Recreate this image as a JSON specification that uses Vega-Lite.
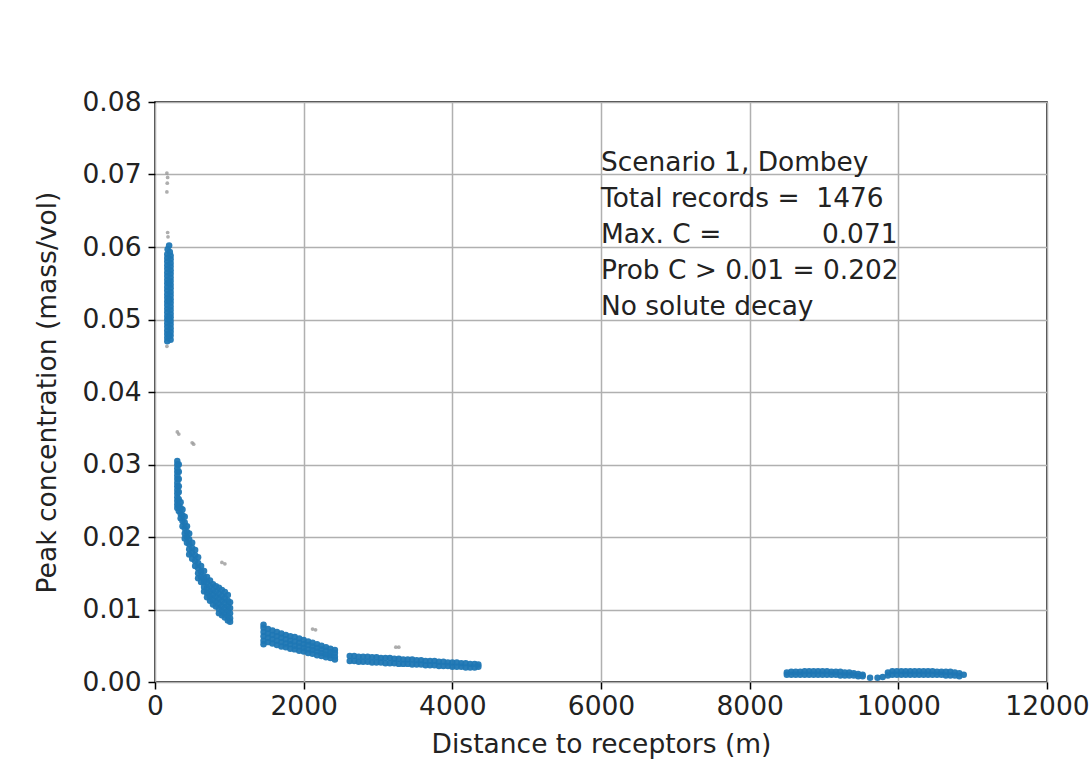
{
  "$schema": "https://vega.github.io/schema/vega-lite/v6.json",
  "width": 892,
  "height": 580,
  "autosize": {"type": "none"},
  "padding": {"left": 155, "top": 102, "right": 42, "bottom": 82},
  "background": "white",
  "config": {
    "font": "DejaVu Sans",
    "view": {"stroke": "black", "strokeWidth": 1.5},
    "axis": {
      "grid": true,
      "gridColor": "#b0b0b0",
      "gridWidth": 1.5,
      "domain": false,
      "tickColor": "black",
      "tickSize": 7,
      "tickWidth": 1.5,
      "labelFontSize": 26.5,
      "labelColor": "#222222",
      "titleFontSize": 26.5,
      "titleFontWeight": "normal",
      "titleColor": "#222222"
    }
  },
  "datasets": {
    "main": [
      {"x":165,"y":0.047},{"x":210,"y":0.0472},{"x":165,"y":0.0475},{"x":210,"y":0.0478},
      {"x":165,"y":0.048},{"x":210,"y":0.0483},{"x":165,"y":0.0485},{"x":210,"y":0.0488},
      {"x":165,"y":0.049},{"x":210,"y":0.0493},{"x":165,"y":0.0495},{"x":210,"y":0.0498},
      {"x":165,"y":0.05},{"x":210,"y":0.0503},{"x":165,"y":0.0505},{"x":210,"y":0.0508},
      {"x":165,"y":0.051},{"x":210,"y":0.0513},{"x":165,"y":0.0515},{"x":210,"y":0.0518},
      {"x":165,"y":0.052},{"x":210,"y":0.0523},{"x":165,"y":0.0525},{"x":210,"y":0.0528},
      {"x":165,"y":0.053},{"x":210,"y":0.0533},{"x":165,"y":0.0535},{"x":210,"y":0.0538},
      {"x":165,"y":0.054},{"x":210,"y":0.0543},{"x":165,"y":0.0545},{"x":210,"y":0.0548},
      {"x":165,"y":0.055},{"x":210,"y":0.0553},{"x":165,"y":0.0555},{"x":210,"y":0.0558},
      {"x":165,"y":0.056},{"x":210,"y":0.0563},{"x":165,"y":0.0565},{"x":210,"y":0.0568},
      {"x":165,"y":0.057},{"x":210,"y":0.0573},{"x":165,"y":0.0575},{"x":210,"y":0.0578},
      {"x":165,"y":0.058},{"x":210,"y":0.0583},{"x":165,"y":0.0585},{"x":210,"y":0.0588},
      {"x":165,"y":0.059},{"x":200,"y":0.0593},{"x":170,"y":0.0597},{"x":190,"y":0.0602},
      {"x":188,"y":0.0478},{"x":188,"y":0.0502},{"x":188,"y":0.0527},{"x":188,"y":0.0551},
      {"x":300,"y":0.0305},{"x":300,"y":0.03},{"x":300,"y":0.0295},{"x":300,"y":0.029},
      {"x":300,"y":0.0285},{"x":300,"y":0.028},{"x":300,"y":0.0275},{"x":300,"y":0.027},
      {"x":300,"y":0.0265},{"x":300,"y":0.026},{"x":300,"y":0.0255},{"x":300,"y":0.025},
      {"x":300,"y":0.0245},{"x":300,"y":0.024},
      {"x":320,"y":0.03},{"x":320,"y":0.029},{"x":320,"y":0.028},{"x":320,"y":0.027},
      {"x":320,"y":0.0262},{"x":320,"y":0.0252},{"x":320,"y":0.0243},{"x":320,"y":0.0236},
      {"x":345,"y":0.0248},{"x":345,"y":0.024},{"x":345,"y":0.0232},{"x":345,"y":0.0226},
      {"x":370,"y":0.0238},{"x":370,"y":0.023},{"x":370,"y":0.0222},{"x":370,"y":0.0215},
      {"x":400,"y":0.0228},{"x":400,"y":0.022},{"x":400,"y":0.0212},{"x":400,"y":0.0205},{"x":400,"y":0.0198},
      {"x":430,"y":0.0215},{"x":430,"y":0.0207},{"x":430,"y":0.02},{"x":430,"y":0.0192},
      {"x":460,"y":0.0205},{"x":460,"y":0.0197},{"x":460,"y":0.019},{"x":460,"y":0.0183},{"x":460,"y":0.0176},
      {"x":500,"y":0.0192},{"x":500,"y":0.0185},{"x":500,"y":0.0178},{"x":500,"y":0.017},
      {"x":540,"y":0.0182},{"x":540,"y":0.0175},{"x":540,"y":0.0167},{"x":540,"y":0.016},
      {"x":580,"y":0.0172},{"x":580,"y":0.0164},{"x":580,"y":0.0157},{"x":580,"y":0.015},{"x":580,"y":0.0143},
      {"x":620,"y":0.016},{"x":620,"y":0.0152},{"x":620,"y":0.0145},{"x":620,"y":0.0138},
      {"x":660,"y":0.0153},{"x":660,"y":0.0145},{"x":660,"y":0.0138},{"x":660,"y":0.0131},{"x":660,"y":0.0125},
      {"x":700,"y":0.0145},{"x":700,"y":0.0138},{"x":700,"y":0.013},{"x":700,"y":0.0123},{"x":700,"y":0.0117},
      {"x":740,"y":0.014},{"x":740,"y":0.0132},{"x":740,"y":0.0125},{"x":740,"y":0.0118},{"x":740,"y":0.0112},
      {"x":780,"y":0.0135},{"x":780,"y":0.0127},{"x":780,"y":0.012},{"x":780,"y":0.0113},{"x":780,"y":0.0107},
      {"x":820,"y":0.0132},{"x":820,"y":0.0125},{"x":820,"y":0.0118},{"x":820,"y":0.0111},{"x":820,"y":0.0104},
      {"x":860,"y":0.013},{"x":860,"y":0.0122},{"x":860,"y":0.0115},{"x":860,"y":0.0108},{"x":860,"y":0.0101},{"x":860,"y":0.0095},
      {"x":900,"y":0.0127},{"x":900,"y":0.0119},{"x":900,"y":0.0112},{"x":900,"y":0.0105},{"x":900,"y":0.0098},{"x":900,"y":0.0092},
      {"x":940,"y":0.0124},{"x":940,"y":0.0116},{"x":940,"y":0.0109},{"x":940,"y":0.0102},{"x":940,"y":0.0095},{"x":940,"y":0.0089},
      {"x":980,"y":0.012},{"x":980,"y":0.0112},{"x":980,"y":0.0105},{"x":980,"y":0.0098},{"x":980,"y":0.0091},{"x":980,"y":0.0085},
      {"x":1010,"y":0.011},{"x":1010,"y":0.0102},{"x":1010,"y":0.0095},{"x":1010,"y":0.0088},{"x":1010,"y":0.0083},
      {"x":1460,"y":0.0079},{"x":1460,"y":0.0075},{"x":1460,"y":0.0069},{"x":1460,"y":0.0063},{"x":1460,"y":0.0057},{"x":1460,"y":0.0052},
      {"x":1520,"y":0.0073},{"x":1520,"y":0.0067},{"x":1520,"y":0.0061},{"x":1520,"y":0.0055},
      {"x":1580,"y":0.0071},{"x":1580,"y":0.0065},{"x":1580,"y":0.0059},{"x":1580,"y":0.0053},
      {"x":1640,"y":0.0069},{"x":1640,"y":0.0063},{"x":1640,"y":0.0057},{"x":1640,"y":0.0051},
      {"x":1700,"y":0.0067},{"x":1700,"y":0.0061},{"x":1700,"y":0.0055},{"x":1700,"y":0.0049},
      {"x":1760,"y":0.0065},{"x":1760,"y":0.0059},{"x":1760,"y":0.0053},{"x":1760,"y":0.0048},
      {"x":1820,"y":0.0063},{"x":1820,"y":0.0057},{"x":1820,"y":0.0052},{"x":1820,"y":0.0046},
      {"x":1880,"y":0.0062},{"x":1880,"y":0.0056},{"x":1880,"y":0.005},{"x":1880,"y":0.0045},
      {"x":1940,"y":0.006},{"x":1940,"y":0.0054},{"x":1940,"y":0.0049},{"x":1940,"y":0.0043},
      {"x":2000,"y":0.0058},{"x":2000,"y":0.0052},{"x":2000,"y":0.0047},{"x":2000,"y":0.0042},
      {"x":2060,"y":0.0056},{"x":2060,"y":0.0051},{"x":2060,"y":0.0045},{"x":2060,"y":0.004},
      {"x":2120,"y":0.0054},{"x":2120,"y":0.0049},{"x":2120,"y":0.0044},{"x":2120,"y":0.0039},
      {"x":2180,"y":0.0052},{"x":2180,"y":0.0047},{"x":2180,"y":0.0042},{"x":2180,"y":0.0037},
      {"x":2240,"y":0.005},{"x":2240,"y":0.0045},{"x":2240,"y":0.004},{"x":2240,"y":0.0036},
      {"x":2300,"y":0.0048},{"x":2300,"y":0.0043},{"x":2300,"y":0.0038},{"x":2300,"y":0.0034},
      {"x":2360,"y":0.0046},{"x":2360,"y":0.0041},{"x":2360,"y":0.0037},{"x":2360,"y":0.0033},
      {"x":2420,"y":0.0044},{"x":2420,"y":0.004},{"x":2420,"y":0.0035},{"x":2420,"y":0.0031},
      {"x":2620,"y":0.0036},{"x":2620,"y":0.0029},{"x":2680,"y":0.0036},{"x":2680,"y":0.0029},
      {"x":2740,"y":0.0035},{"x":2740,"y":0.0028},{"x":2800,"y":0.0035},{"x":2800,"y":0.0028},
      {"x":2860,"y":0.0035},{"x":2860,"y":0.0028},{"x":2920,"y":0.0034},{"x":2920,"y":0.0027},
      {"x":2980,"y":0.0034},{"x":2980,"y":0.0027},{"x":3040,"y":0.0033},{"x":3040,"y":0.0027},
      {"x":3100,"y":0.0033},{"x":3100,"y":0.0026},{"x":3160,"y":0.0033},{"x":3160,"y":0.0026},
      {"x":3220,"y":0.0032},{"x":3220,"y":0.0026},{"x":3280,"y":0.0032},{"x":3280,"y":0.0025},
      {"x":3340,"y":0.0031},{"x":3340,"y":0.0025},{"x":3400,"y":0.0031},{"x":3400,"y":0.0025},
      {"x":3460,"y":0.0031},{"x":3460,"y":0.0024},{"x":3520,"y":0.003},{"x":3520,"y":0.0024},
      {"x":3580,"y":0.003},{"x":3580,"y":0.0024},{"x":3640,"y":0.0029},{"x":3640,"y":0.0023},
      {"x":3700,"y":0.0029},{"x":3700,"y":0.0023},{"x":3760,"y":0.0029},{"x":3760,"y":0.0023},
      {"x":3820,"y":0.0028},{"x":3820,"y":0.0022},{"x":3880,"y":0.0028},{"x":3880,"y":0.0022},
      {"x":3940,"y":0.0027},{"x":3940,"y":0.0022},{"x":4000,"y":0.0027},{"x":4000,"y":0.0021},
      {"x":4060,"y":0.0027},{"x":4060,"y":0.0021},{"x":4120,"y":0.0026},{"x":4120,"y":0.0021},
      {"x":4180,"y":0.0026},{"x":4180,"y":0.002},{"x":4240,"y":0.0025},{"x":4240,"y":0.002},
      {"x":4300,"y":0.0025},{"x":4300,"y":0.002},{"x":4350,"y":0.0024},{"x":4350,"y":0.0021},
      {"x":8500,"y":0.0013},{"x":8500,"y":0.001},{"x":8560,"y":0.0014},{"x":8560,"y":0.001},
      {"x":8620,"y":0.0014},{"x":8620,"y":0.001},{"x":8680,"y":0.0014},{"x":8680,"y":0.001},
      {"x":8740,"y":0.0015},{"x":8740,"y":0.001},{"x":8800,"y":0.0015},{"x":8800,"y":0.001},
      {"x":8860,"y":0.0015},{"x":8860,"y":0.001},{"x":8920,"y":0.0015},{"x":8920,"y":0.001},
      {"x":8980,"y":0.0015},{"x":8980,"y":0.001},{"x":9040,"y":0.0015},{"x":9040,"y":0.001},
      {"x":9100,"y":0.0014},{"x":9100,"y":0.001},{"x":9160,"y":0.0014},{"x":9160,"y":0.001},
      {"x":9220,"y":0.0014},{"x":9220,"y":0.0009},{"x":9280,"y":0.0013},{"x":9280,"y":0.0009},
      {"x":9340,"y":0.0013},{"x":9340,"y":0.0009},{"x":9400,"y":0.0012},{"x":9400,"y":0.0009},
      {"x":9460,"y":0.0011},{"x":9460,"y":0.0008},{"x":9520,"y":0.001},{"x":9520,"y":0.0008},
      {"x":9620,"y":0.0006},{"x":9720,"y":0.0006},{"x":9790,"y":0.0007},
      {"x":9860,"y":0.0013},{"x":9860,"y":0.0009},{"x":9920,"y":0.0015},{"x":9920,"y":0.001},
      {"x":9980,"y":0.0015},{"x":9980,"y":0.001},{"x":10040,"y":0.0015},{"x":10040,"y":0.001},
      {"x":10100,"y":0.0015},{"x":10100,"y":0.001},{"x":10160,"y":0.0015},{"x":10160,"y":0.001},
      {"x":10220,"y":0.0015},{"x":10220,"y":0.001},{"x":10280,"y":0.0015},{"x":10280,"y":0.001},
      {"x":10340,"y":0.0015},{"x":10340,"y":0.001},{"x":10400,"y":0.0015},{"x":10400,"y":0.001},
      {"x":10460,"y":0.0015},{"x":10460,"y":0.001},{"x":10520,"y":0.0014},{"x":10520,"y":0.001},
      {"x":10580,"y":0.0014},{"x":10580,"y":0.001},{"x":10640,"y":0.0014},{"x":10640,"y":0.0009},
      {"x":10700,"y":0.0014},{"x":10700,"y":0.0009},{"x":10760,"y":0.0013},{"x":10760,"y":0.0009},
      {"x":10820,"y":0.0012},{"x":10820,"y":0.0008},{"x":10880,"y":0.001}
    ],
    "stray": [
      {"x":160,"y":0.0702},{"x":170,"y":0.0696},{"x":165,"y":0.0688},{"x":160,"y":0.0676},
      {"x":170,"y":0.062},{"x":175,"y":0.0614},{"x":160,"y":0.0463},
      {"x":300,"y":0.0345},{"x":320,"y":0.0342},{"x":500,"y":0.033},{"x":520,"y":0.0328},
      {"x":900,"y":0.0165},{"x":940,"y":0.0163},{"x":2120,"y":0.0073},{"x":2160,"y":0.0072},
      {"x":3240,"y":0.0048},{"x":3280,"y":0.0048}
    ],
    "notes": [
      {"tx":6000,"ty":0.0705,"t":"Scenario 1, Dombey"},
      {"tx":6000,"ty":0.0655,"t":"Total records =\u00a0\u00a01476"},
      {"tx":6000,"ty":0.0606,"t":"Max. C =\u00a0\u00a0\u00a0\u00a0\u00a0\u00a0\u00a0\u00a0\u00a0\u00a0\u00a0\u00a00.071"},
      {"tx":6000,"ty":0.0556,"t":"Prob C > 0.01 = 0.202"},
      {"tx":6000,"ty":0.0506,"t":"No solute decay"}
    ]
  },
  "layer": [
    {
      "data": {"name": "main"},
      "mark": {"type": "circle", "size": 42, "color": "#1f77b4", "opacity": 0.95},
      "encoding": {
        "x": {
          "field": "x", "type": "quantitative",
          "scale": {"domain": [0, 12000], "nice": false},
          "axis": {"values": [0,2000,4000,6000,8000,10000,12000], "format": "d", "labelPadding": 4, "titlePadding": 12, "labelFlush": false},
          "title": "Distance to receptors (m)"
        },
        "y": {
          "field": "y", "type": "quantitative",
          "scale": {"domain": [0, 0.08], "nice": false},
          "axis": {"values": [0,0.01,0.02,0.03,0.04,0.05,0.06,0.07,0.08], "format": ".2f", "labelPadding": 7, "titlePadding": 20, "labelFlush": false},
          "title": "Peak concentration (mass/vol)"
        }
      }
    },
    {
      "data": {"name": "stray"},
      "mark": {"type": "circle", "size": 14, "color": "#9a9a9a", "opacity": 0.8},
      "encoding": {
        "x": {"field": "x", "type": "quantitative"},
        "y": {"field": "y", "type": "quantitative"}
      }
    },
    {
      "data": {"name": "notes"},
      "mark": {"type": "text", "align": "left", "baseline": "alphabetic", "fontSize": 26.4, "color": "#222222", "font": "DejaVu Sans"},
      "encoding": {
        "x": {"field": "tx", "type": "quantitative"},
        "y": {"field": "ty", "type": "quantitative"},
        "text": {"field": "t"}
      }
    }
  ]
}
